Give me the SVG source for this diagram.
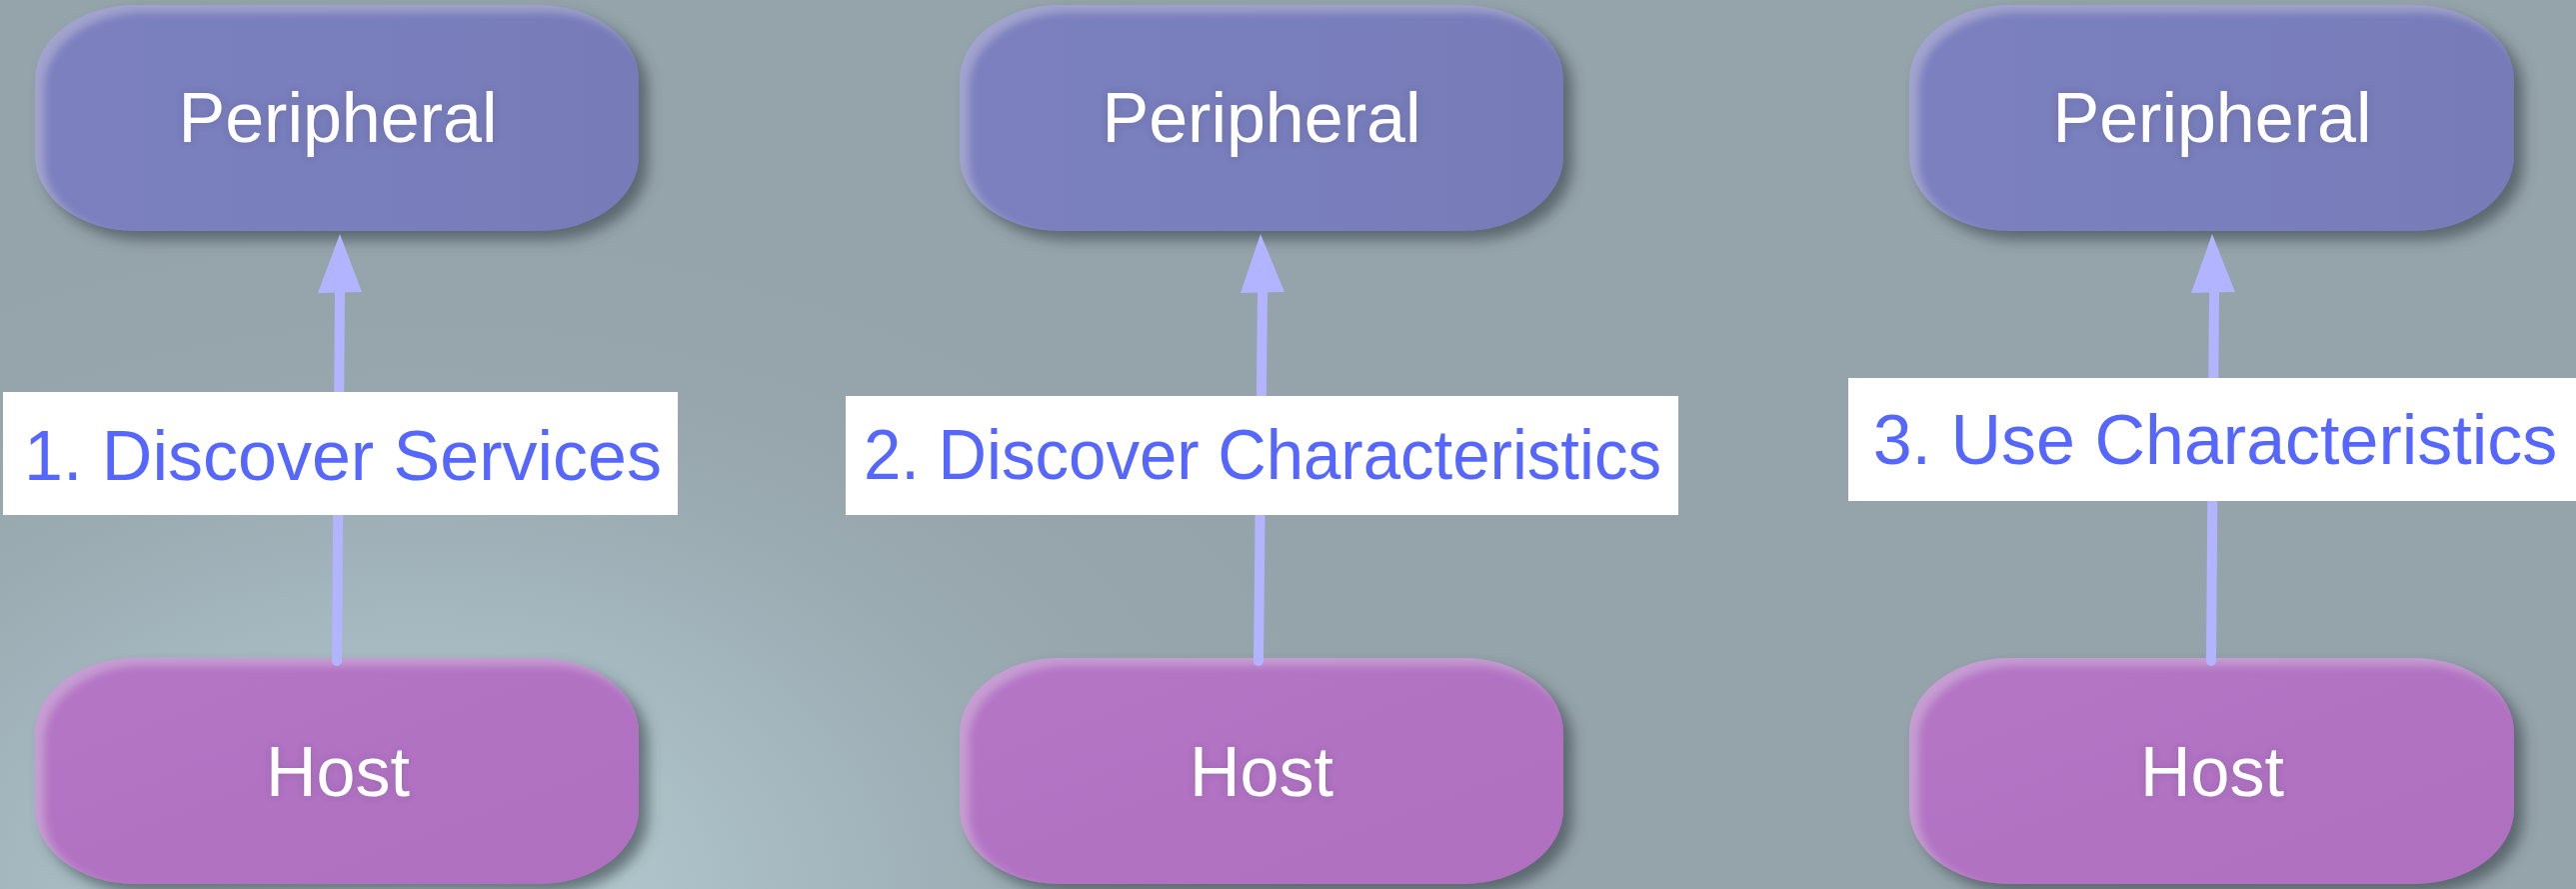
<svg xmlns="http://www.w3.org/2000/svg" width="2577" height="889" viewBox="0 0 2577 889">
  <defs>
    <radialGradient id="bgGlow" gradientUnits="userSpaceOnUse" cx="420" cy="900" r="1000" gradientTransform="translate(420 900) scale(1 0.7) translate(-420 -900)">
      <stop offset="0" stop-color="#bcd4d8"/>
      <stop offset="0.45" stop-color="#a6b9c1" stop-opacity="0.8"/>
      <stop offset="1" stop-color="#95a3aa" stop-opacity="0"/>
    </radialGradient>
    <linearGradient id="periFill" x1="0" y1="0" x2="1" y2="0">
      <stop offset="0" stop-color="#7b80bf"/>
      <stop offset="1" stop-color="#777cb9"/>
    </linearGradient>
    <linearGradient id="hostFill" x1="0" y1="0" x2="1" y2="1">
      <stop offset="0" stop-color="#b575c6"/>
      <stop offset="1" stop-color="#b070c0"/>
    </linearGradient>
    <!-- drop shadow to the lower right plus a soft light rim on the upper left -->
    <filter id="raised" x="-10%" y="-10%" width="125%" height="135%">
      <feGaussianBlur in="SourceAlpha" stdDeviation="7" result="blur"/>
      <feOffset in="blur" dx="9" dy="9" result="off"/>
      <feFlood flood-color="#3a484e" flood-opacity="0.65"/>
      <feComposite in2="off" operator="in" result="shadow"/>
      <feOffset in="SourceAlpha" dx="9" dy="7" result="shift"/>
      <feGaussianBlur in="shift" stdDeviation="4" result="shiftBlur"/>
      <feComposite in="SourceAlpha" in2="shiftBlur" operator="out" result="rim"/>
      <feFlood flood-color="#ffffff" flood-opacity="0.2"/>
      <feComposite in2="rim" operator="in" result="rimLight"/>
      <feMerge>
        <feMergeNode in="shadow"/>
        <feMergeNode in="SourceGraphic"/>
        <feMergeNode in="rimLight"/>
      </feMerge>
    </filter>
    <filter id="textHalo" x="-10%" y="-30%" width="120%" height="160%">
      <feGaussianBlur in="SourceAlpha" stdDeviation="4" result="b"/>
      <feFlood flood-color="#3a3f6a" flood-opacity="0.25"/>
      <feComposite in2="b" operator="in" result="halo"/>
      <feMerge>
        <feMergeNode in="halo"/>
        <feMergeNode in="SourceGraphic"/>
      </feMerge>
    </filter>
  </defs>
  <style>
    .node-text { font-family: "Liberation Sans", Arial, Helvetica, sans-serif; font-size: 70px; fill: #ffffff; text-anchor: middle; }
    .peri { fill: url(#periFill); }
    .host { fill: url(#hostFill); }
    .wire { stroke: #b3b4ff; stroke-width: 10; stroke-linecap: round; fill: none; }
    .head { fill: #b3b4ff; }
    .tag-box { fill: #ffffff; }
    .tag-text { font-family: "Liberation Sans", Arial, Helvetica, sans-serif; font-size: 70px; fill: #5567ff; text-anchor: middle; }
  </style>

  <!-- backdrop -->
  <rect x="0" y="0" width="2577" height="889" fill="#95a3aa"/>
  <rect x="0" y="0" width="2577" height="889" fill="url(#bgGlow)"/>

  <!-- peripherals -->
  <g id="peripheral-1">
    <rect class="peri" x="35" y="5" width="604" height="226" rx="100" ry="75" filter="url(#raised)"/>
    <text class="node-text" x="338" y="142" filter="url(#textHalo)">Peripheral</text>
  </g>
  <g id="peripheral-2">
    <rect class="peri" x="960" y="5" width="604" height="226" rx="100" ry="75" filter="url(#raised)"/>
    <text class="node-text" x="1262" y="142" filter="url(#textHalo)">Peripheral</text>
  </g>
  <g id="peripheral-3">
    <rect class="peri" x="1910" y="5" width="605" height="226" rx="100" ry="75" filter="url(#raised)"/>
    <text class="node-text" x="2213" y="142" filter="url(#textHalo)">Peripheral</text>
  </g>

  <!-- hosts -->
  <g id="host-1">
    <rect class="host" x="35" y="658" width="604" height="226" rx="100" ry="75" filter="url(#raised)"/>
    <text class="node-text" x="338" y="796" filter="url(#textHalo)">Host</text>
  </g>
  <g id="host-2">
    <rect class="host" x="960" y="658" width="604" height="226" rx="100" ry="75" filter="url(#raised)"/>
    <text class="node-text" x="1262" y="796" filter="url(#textHalo)">Host</text>
  </g>
  <g id="host-3">
    <rect class="host" x="1910" y="658" width="605" height="226" rx="100" ry="75" filter="url(#raised)"/>
    <text class="node-text" x="2213" y="796" filter="url(#textHalo)">Host</text>
  </g>

  <!-- connectors: host up to peripheral -->
  <g id="connectors">
    <line class="wire" x1="337" y1="661" x2="340" y2="292"/>
    <polygon class="head" points="340,234 318,293 362,292"/>
    <line class="wire" x1="1259" y1="661" x2="1263" y2="292"/>
    <polygon class="head" points="1261,234 1241,293 1285,292"/>
    <line class="wire" x1="2212" y1="661" x2="2215" y2="292"/>
    <polygon class="head" points="2213,234 2192,293 2236,292"/>
  </g>

  <!-- connector labels -->
  <g id="label-1">
    <rect class="tag-box" x="3" y="392" width="675" height="123"/>
    <text class="tag-text" x="343" y="480">1. Discover Services</text>
  </g>
  <g id="label-2">
    <rect class="tag-box" x="846" y="396" width="833" height="119"/>
    <text class="tag-text" x="1263" y="479" textLength="798" lengthAdjust="spacingAndGlyphs">2. Discover Characteristics</text>
  </g>
  <g id="label-3">
    <rect class="tag-box" x="1849" y="378" width="728" height="123"/>
    <text class="tag-text" x="2216" y="464">3. Use Characteristics</text>
  </g>
</svg>
